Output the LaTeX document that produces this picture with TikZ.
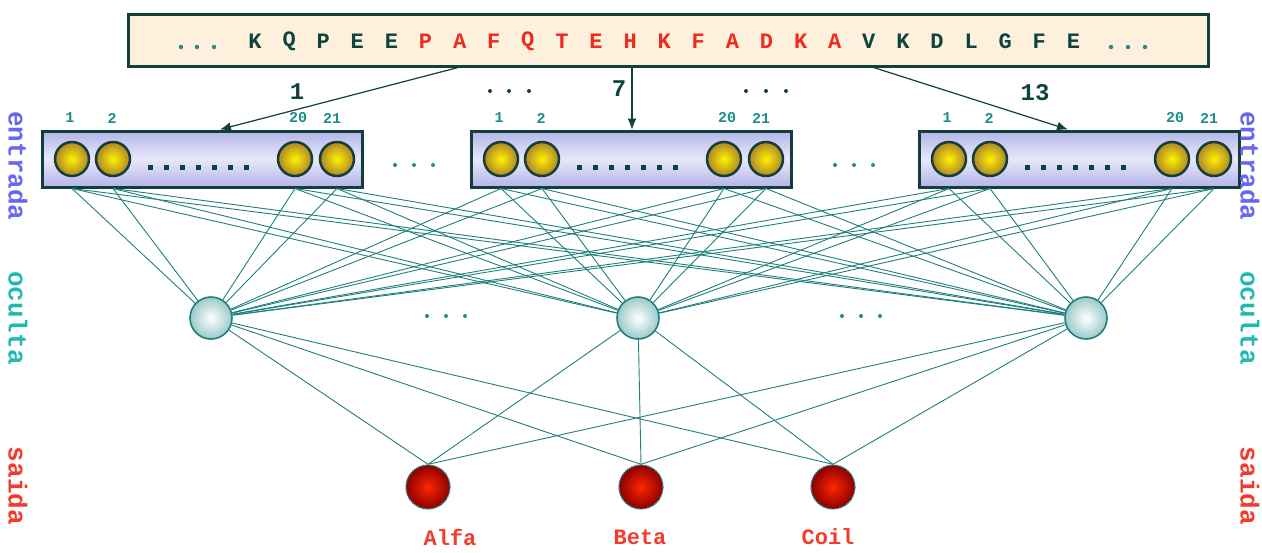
\documentclass[tikz,border=0pt]{standalone}
\usepackage{fontspec}
\setmonofont{Liberation Mono}
\usetikzlibrary{arrows.meta}
\definecolor{frame}{HTML}{123F3A}
\definecolor{wire}{HTML}{1E7F7C}
\definecolor{numc}{HTML}{1E8C88}
\definecolor{seqdark}{HTML}{0E4440}
\definecolor{seqred}{HTML}{F02A1E}
\definecolor{boxtop}{HTML}{B4B4EA}
\definecolor{boxmid}{HTML}{E8E8FA}
\definecolor{seqfill}{HTML}{FDF0DC}
\definecolor{inlab}{HTML}{6A66F2}
\definecolor{hidlab}{HTML}{22B8B4}
\definecolor{outlab}{HTML}{F43A2A}
\tikzset{
  every node/.style={font=\ttfamily\bfseries},
  seqbox/.style={draw=frame, line width=3pt, fill=seqfill, minimum width=1080pt, minimum height=52pt, inner sep=0pt},
  inbox/.style={draw=frame, line width=3pt, top color=boxtop, bottom color=boxtop, middle color=boxmid, minimum width=320pt, minimum height=56pt, inner sep=0pt},
  unit/.style={circle, draw=frame, line width=2.5pt, inner color=yellow!90!orange, outer color=black!20!brown!80!yellow, minimum size=34pt, inner sep=0pt},
  hidden/.style={circle, draw=wire, line width=1.6pt, inner color=white, outer color=cyan!30!gray!60, minimum size=42pt, inner sep=0pt},
  outunit/.style={circle, draw=wire, densely dotted, line width=1.4pt, inner color=red!70!orange, outer color=black!45!red, minimum size=44pt, inner sep=0pt},
  idx/.style={text=numc, font=\ttfamily\bfseries\fontsize{15}{15}\selectfont},
  win/.style={text=seqdark, font=\ttfamily\bfseries\fontsize{24}{24}\selectfont},
  sidel/.style={rotate=-90, font=\ttfamily\bfseries\fontsize{26}{26}\selectfont},
  classl/.style={text=outlab, font=\ttfamily\bfseries\fontsize{22}{22}\selectfont},
  aa/.style={font=\ttfamily\bfseries\fontsize{22}{22}\selectfont},
  link/.style={draw=wire, line width=0.9pt},
  feed/.style={draw=frame, line width=1.2pt, -{Latex[length=11pt,width=9pt]}}
}
\begin{document}
\begin{tikzpicture}[x=1pt, y=-1pt]
\useasboundingbox (0,0) rectangle (1262,552);

% amino-acid sequence
\node[seqbox] (seq) at (668,40) {};
\foreach \x in {181,197,214} \fill[numc] (\x,47) circle (2.2pt);
\foreach \x in {1111,1128,1145} \fill[numc] (\x,47) circle (2.2pt);
\foreach \c/\col [count=\i from 0] in {K/seqdark,Q/seqdark,P/seqdark,E/seqdark,E/seqdark,
  P/seqred,A/seqred,F/seqred,Q/seqred,T/seqred,E/seqred,H/seqred,K/seqred,F/seqred,A/seqred,D/seqred,K/seqred,A/seqred,
  V/seqdark,K/seqdark,D/seqdark,L/seqdark,G/seqdark,F/seqdark,E/seqdark}
  \node[aa, text=\col] (aa\i) at ({255+34.1*\i},41) {\c};

% input windows
\foreach \n/\cx in {A/202, B/631, C/1079} {
  \node[inbox] (box\n) at (\cx,159) {};
  \node[unit] (\n1) at (\cx-130,159) {};
  \node[unit] (\n2) at (\cx-89,159) {};
  \node[unit] (\n20) at (\cx+93,159) {};
  \node[unit] (\n21) at (\cx+135,159) {};
  \foreach \k in {0,...,6}
    \fill[frame] (\cx-52+16*\k-2.5,164.5) rectangle ++(5,5);
  \node[idx] (l\n1) at (\cx-132,118) {1};
  \node[idx] (l\n2) at (\cx-90,118) {2};
  \node[idx] (l\n20) at (\cx+96,118) {20};
  \node[idx] (l\n21) at (\cx+130,118) {21};
}

% dots between windows
\foreach \x in {395,414,433, 835,854,873} \fill[numc] (\x,165) circle (2pt);
\foreach \x in {490,509,529, 746,766,786} \fill[seqdark] (\x,91) circle (2pt);

% windows fed from the sequence
\coordinate (sA) at (460,67);
\coordinate (sB) at (632,67);
\coordinate (sC) at (872,67);
\draw[feed] (sA) -- (boxA.north -| 220,0);
\draw[feed] (sB) -- (boxB.north -| 632,0);
\draw[feed] (sC) -- (boxC.north -| 1068,0);
\node[win] (w1) at (297,92) {1};
\node[win] (w7) at (619,89) {7};
\node[win] (w13) at (1035,93) {13};

% hidden layer
\node[hidden] (h1) at (211,318) {};
\node[hidden] (h2) at (638,318) {};
\node[hidden] (h3) at (1086,318) {};
\foreach \x in {427,446,465, 842,861,880} \fill[numc] (\x,316) circle (2pt);

% output layer
\node[outunit] (o1) at (428,487) {};
\node[outunit] (o2) at (641,487) {};
\node[outunit] (o3) at (833,487) {};
\node[classl] (c1) at (450,537) {Alfa};
\node[classl] (c2) at (640,537) {Beta};
\node[classl] (c3) at (828,537) {Coil};

% connections input -> hidden -> output
\foreach \n in {A,B,C}
  \foreach \u in {1,2,20,21}
    \foreach \h in {h1,h2,h3}
      \draw[link] (\n\u |- box\n.south) -- (\h);
\foreach \h in {h1,h2,h3}
  \foreach \o in {o1,o2,o3}
    \draw[link] (\h) -- (\o.north);

% layer captions
\node[sidel, text=inlab] (e1) at (18,166) {entrada};
\node[sidel, text=hidlab] (k1) at (18,318) {oculta};
\node[sidel, text=outlab] (s1) at (18,486) {saida};
\node[sidel, text=inlab] (e2) at (1250,166) {entrada};
\node[sidel, text=hidlab] (k2) at (1250,318) {oculta};
\node[sidel, text=outlab] (s2) at (1250,486) {saida};
\end{tikzpicture}
\end{document}
